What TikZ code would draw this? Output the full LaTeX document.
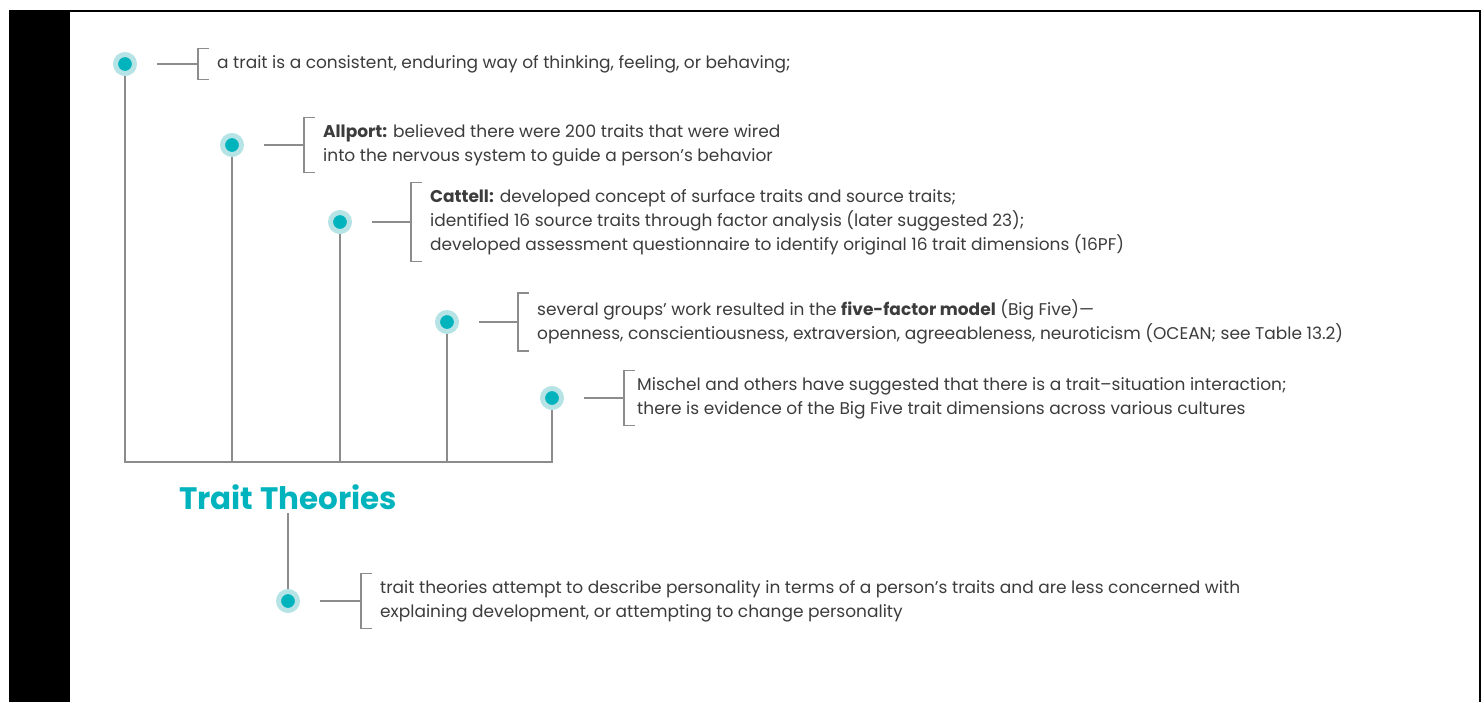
\documentclass[tikz,border=0pt]{standalone}
\usepackage{fontspec}
\setmainfont{Poppins}
\usetikzlibrary{positioning}
\definecolor{ttteal}{HTML}{00B3BC}
\definecolor{tthalo}{HTML}{B5E3E6}
\definecolor{ttline}{HTML}{8C8C8C}
\definecolor{tttext}{HTML}{3C3C3C}

\begin{document}
\begin{tikzpicture}[x=1pt, y=-1pt,
          dot/.style={circle, fill=ttteal, draw=tthalo, line width=5pt, minimum size=19pt, inner sep=0pt},
          txt/.style={text=tttext, font=\fontsize{17}{24}\selectfont, align=left, inner xsep=0pt, inner ysep=6.5pt},
          link/.style={draw=ttline, line width=1.4pt},
          title/.style={text=ttteal, font=\fontsize{31}{36}\selectfont\bfseries}]
        % page frame
        \useasboundingbox (0,0) rectangle (1484,702);
        \fill[black] (9,11) rectangle (70,702);
        \draw[line width=1.5pt] (9,11) -- (1481,11);
        \draw[line width=1.5pt] (1480,11) -- (1480,702);
        % timeline dots
        \node[dot] (trait) at (125,64) {};
        \node[dot] (allport) at (232,145) {};
        \node[dot] (cattell) at (340,222) {};
        \node[dot] (five) at (447,322) {};
        \node[dot] (mischel) at (552,398) {};
        \coordinate (base) at (125,462);
        \node[title] (head) at (288,497) {Trait Theories};
        \node[dot] (aim) at (288,601) {};
        % texts
        \node[txt, right=80pt of trait] (ttrait) {a trait is a consistent, enduring way of thinking, feeling, or behaving;};
        \node[txt, right=79pt of allport] (tallport) {\textbf{Allport:} believed there were 200 traits that were wired\\into the nervous system to guide a person’s behavior};
        \node[txt, right=78pt of cattell] (tcattell) {\textbf{Cattell:} developed concept of surface traits and source traits;\\identified 16 source traits through factor analysis (later suggested 23);\\developed assessment questionnaire to identify original 16 trait dimensions (16PF)};
        \node[txt, right=78pt of five] (tfive) {several groups’ work resulted in the \textbf{five-factor model} (Big Five)—\\openness, conscientiousness, extraversion, agreeableness, neuroticism (OCEAN; see Table 13.2)};
        \node[txt, right=73pt of mischel] (tmischel) {Mischel and others have suggested that there is a trait–situation interaction;\\there is evidence of the Big Five trait dimensions across various cultures};
        \node[txt, right=80pt of aim] (taim) {trait theories attempt to describe personality in terms of a person’s traits and are less concerned with\\explaining development, or attempting to change personality};
        % stems
        \draw[link] (trait) -- (trait |- base) -- (mischel |- base) -- (mischel);
        \draw[link] (allport) -- (allport |- base);
        \draw[link] (cattell) -- (cattell |- base);
        \draw[link] (five) -- (five |- base);
        \draw[link] (head.south) -- (aim);
        % brackets
        \draw[link] ([xshift=20pt]trait.east) -- ([xshift=-19pt]ttrait.west);
        \draw[link] ([xshift=-8pt]ttrait.north west) -- ++(-11,0) |- ([xshift=-8pt]ttrait.south west);
        \draw[link] ([xshift=20pt]allport.east) -- ([xshift=-19pt]tallport.west);
        \draw[link] ([xshift=-8pt]tallport.north west) -- ++(-11,0) |- ([xshift=-8pt]tallport.south west);
        \draw[link] ([xshift=20pt]cattell.east) -- ([xshift=-19pt]tcattell.west);
        \draw[link] ([xshift=-8pt]tcattell.north west) -- ++(-11,0) |- ([xshift=-8pt]tcattell.south west);
        \draw[link] ([xshift=20pt]five.east) -- ([xshift=-19pt]tfive.west);
        \draw[link] ([xshift=-8pt]tfive.north west) -- ++(-11,0) |- ([xshift=-8pt]tfive.south west);
        \draw[link] ([xshift=20pt]mischel.east) -- ([xshift=-13pt]tmischel.west);
        \draw[link] ([xshift=-2pt]tmischel.north west) -- ++(-11,0) |- ([xshift=-2pt]tmischel.south west);
        \draw[link] ([xshift=20pt]aim.east) -- ([xshift=-19pt]taim.west);
        \draw[link] ([xshift=-8pt]taim.north west) -- ++(-11,0) |- ([xshift=-8pt]taim.south west);
      \end{tikzpicture}
\end{document}
